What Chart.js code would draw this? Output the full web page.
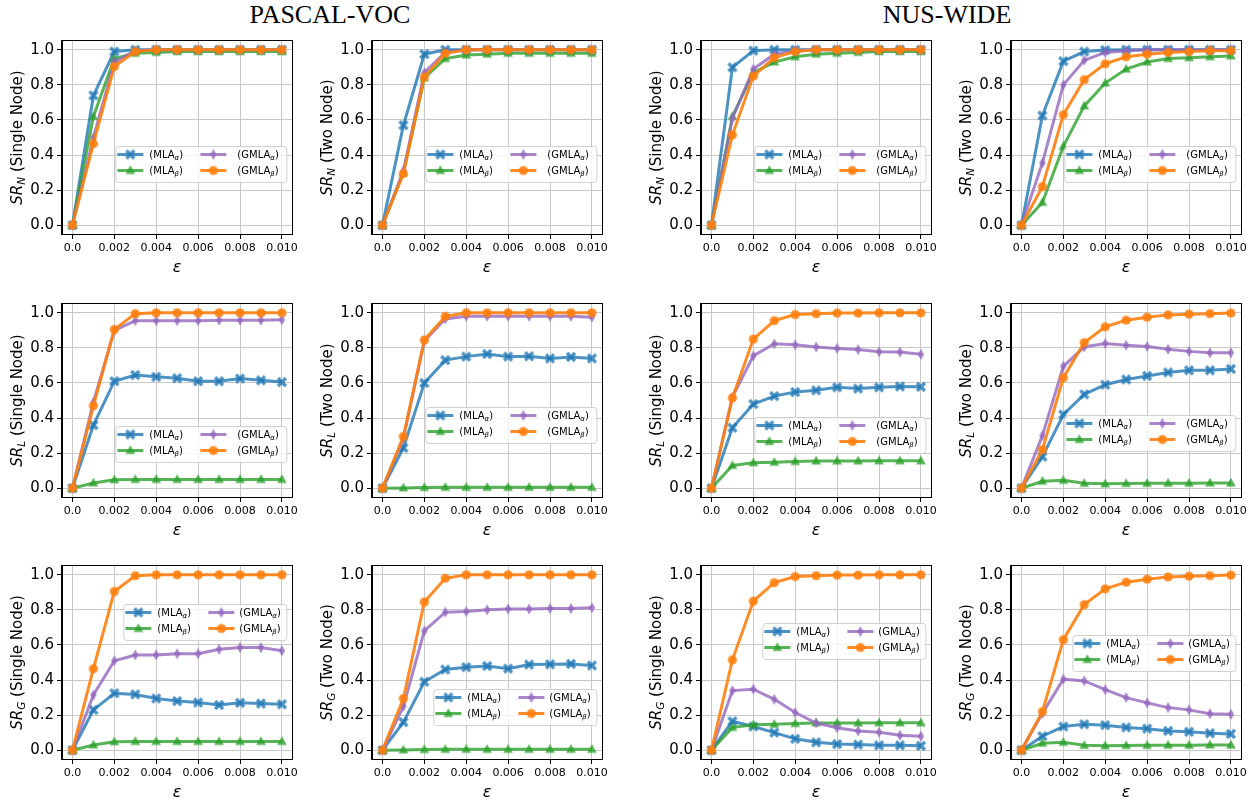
<!DOCTYPE html>
<html>
<head>
<meta charset="utf-8">
<script src="https://cdn.jsdelivr.net/npm/chart.js@4.4.1/dist/chart.umd.min.js"></script>
<style>
  html, body { margin: 0; padding: 0; background: #fff; }
  #fig { position: relative; width: 1256px; height: 801px; overflow: hidden; }
  #fig canvas { position: absolute; }
  .dsTitle { position: absolute; top: 0px; font-family: "Liberation Serif", serif; font-size: 26px; color: #000; transform: translateX(-50%); white-space: nowrap; }
</style>
</head>
<body>
<div id="fig">
  <div class="dsTitle" style="left:330px">PASCAL-VOC</div>
  <div class="dsTitle" style="left:947px">NUS-WIDE</div>
</div>
<script>
// epsilon values on the x axis, and tick labels
var epsValues = [0, 0.001, 0.002, 0.003, 0.004, 0.005, 0.006, 0.007, 0.008, 0.009, 0.010];
var xTickLabels = ['0.0', '0.002', '0.004', '0.006', '0.008', '0.010'];
var yTickLabels = ['0.0', '0.2', '0.4', '0.6', '0.8', '1.0'];

// series names: (MLA_alpha), (MLA_beta), (GMLA_alpha), (GMLA_beta)
var seriesBase = ['MLA', 'MLA', 'GMLA', 'GMLA'];
var seriesSub = ['\u03b1', '\u03b2', '\u03b1', '\u03b2'];

// PASCAL-VOC, SR_N single node
var vocNSingleMlaA  = [0, 0.74, 0.99, 1.0, 1.0, 1.0, 1.0, 1.0, 1.0, 1.0, 1.0];
var vocNSingleMlaB  = [0, 0.62, 0.95, 0.98, 0.985, 0.99, 0.99, 0.99, 0.99, 0.99, 0.99];
var vocNSingleGmlaA = [0, 0.50, 0.93, 0.995, 1.0, 1.0, 1.0, 1.0, 1.0, 1.0, 1.0];
var vocNSingleGmlaB = [0, 0.465, 0.905, 0.99, 1.0, 1.0, 1.0, 1.0, 1.0, 1.0, 1.0];
// PASCAL-VOC, SR_N two node
var vocNTwoMlaA  = [0, 0.57, 0.975, 1.0, 1.0, 1.0, 1.0, 1.0, 1.0, 1.0, 1.0];
var vocNTwoMlaB  = [0, 0.30, 0.84, 0.95, 0.97, 0.975, 0.98, 0.98, 0.98, 0.98, 0.98];
var vocNTwoGmlaA = [0, 0.31, 0.87, 0.985, 1.0, 1.0, 1.0, 1.0, 1.0, 1.0, 1.0];
var vocNTwoGmlaB = [0, 0.295, 0.845, 0.98, 1.0, 1.0, 1.0, 1.0, 1.0, 1.0, 1.0];
// NUS-WIDE, SR_N single node
var nusNSingleMlaA  = [0, 0.90, 0.995, 1.0, 1.0, 1.0, 1.0, 1.0, 1.0, 1.0, 1.0];
var nusNSingleMlaB  = [0, 0.62, 0.87, 0.93, 0.96, 0.975, 0.98, 0.985, 0.99, 0.99, 0.99];
var nusNSingleGmlaA = [0, 0.61, 0.89, 0.975, 0.995, 1.0, 1.0, 1.0, 1.0, 1.0, 1.0];
var nusNSingleGmlaB = [0, 0.515, 0.85, 0.955, 0.99, 1.0, 1.0, 1.0, 1.0, 1.0, 1.0];
// NUS-WIDE, SR_N two node
var nusNTwoMlaA  = [0, 0.625, 0.935, 0.99, 0.998, 1.0, 1.0, 1.0, 1.0, 1.0, 1.0];
var nusNTwoMlaB  = [0, 0.13, 0.45, 0.68, 0.81, 0.89, 0.93, 0.95, 0.955, 0.96, 0.965];
var nusNTwoGmlaA = [0, 0.355, 0.80, 0.94, 0.985, 0.995, 1.0, 1.0, 1.0, 1.0, 1.0];
var nusNTwoGmlaB = [0, 0.22, 0.63, 0.83, 0.92, 0.96, 0.975, 0.985, 0.99, 0.995, 0.995];

// PASCAL-VOC, SR_L single node
var vocLSingleMlaA  = [0, 0.36, 0.61, 0.645, 0.635, 0.627, 0.61, 0.61, 0.625, 0.615, 0.605];
var vocLSingleMlaB  = [0, 0.03, 0.048, 0.05, 0.05, 0.05, 0.05, 0.05, 0.05, 0.05, 0.05];
var vocLSingleGmlaA = [0, 0.49, 0.90, 0.955, 0.955, 0.955, 0.955, 0.958, 0.958, 0.958, 0.96];
var vocLSingleGmlaB = [0, 0.47, 0.905, 0.995, 1.0, 1.0, 1.0, 1.0, 1.0, 1.0, 1.0];
// PASCAL-VOC, SR_L two node
var vocLTwoMlaA  = [0, 0.23, 0.60, 0.73, 0.75, 0.765, 0.75, 0.752, 0.74, 0.748, 0.74];
var vocLTwoMlaB  = [0, 0.002, 0.004, 0.005, 0.005, 0.005, 0.005, 0.005, 0.005, 0.005, 0.005];
var vocLTwoGmlaA = [0, 0.285, 0.84, 0.965, 0.98, 0.98, 0.98, 0.98, 0.98, 0.98, 0.975];
var vocLTwoGmlaB = [0, 0.295, 0.845, 0.98, 1.0, 1.0, 1.0, 1.0, 1.0, 1.0, 1.0];
// NUS-WIDE, SR_L single node
var nusLSingleMlaA  = [0, 0.345, 0.48, 0.525, 0.548, 0.558, 0.575, 0.568, 0.575, 0.58, 0.578];
var nusLSingleMlaB  = [0, 0.13, 0.145, 0.148, 0.152, 0.155, 0.155, 0.155, 0.156, 0.156, 0.156];
var nusLSingleGmlaA = [0, 0.52, 0.755, 0.823, 0.818, 0.805, 0.797, 0.79, 0.778, 0.776, 0.763];
var nusLSingleGmlaB = [0, 0.515, 0.85, 0.955, 0.99, 0.995, 0.998, 0.998, 1.0, 1.0, 1.0];
// NUS-WIDE, SR_L two node
var nusLTwoMlaA  = [0, 0.18, 0.42, 0.535, 0.59, 0.62, 0.64, 0.66, 0.672, 0.672, 0.68];
var nusLTwoMlaB  = [0, 0.04, 0.045, 0.028, 0.025, 0.027, 0.028, 0.029, 0.029, 0.03, 0.03];
var nusLTwoGmlaA = [0, 0.30, 0.695, 0.805, 0.825, 0.815, 0.808, 0.792, 0.78, 0.772, 0.772];
var nusLTwoGmlaB = [0, 0.22, 0.63, 0.83, 0.92, 0.958, 0.975, 0.988, 0.992, 0.995, 0.998];

// PASCAL-VOC, SR_G single node
var vocGSingleMlaA  = [0, 0.23, 0.325, 0.318, 0.295, 0.28, 0.272, 0.258, 0.27, 0.266, 0.262];
var vocGSingleMlaB  = [0, 0.03, 0.048, 0.05, 0.05, 0.05, 0.05, 0.05, 0.05, 0.05, 0.05];
var vocGSingleGmlaA = [0, 0.315, 0.51, 0.543, 0.543, 0.55, 0.55, 0.575, 0.585, 0.585, 0.567];
var vocGSingleGmlaB = [0, 0.465, 0.905, 0.995, 1.0, 1.0, 1.0, 1.0, 1.0, 1.0, 1.0];
// PASCAL-VOC, SR_G two node
var vocGTwoMlaA  = [0, 0.16, 0.39, 0.46, 0.473, 0.48, 0.465, 0.488, 0.49, 0.492, 0.483];
var vocGTwoMlaB  = [0, 0.002, 0.004, 0.005, 0.005, 0.005, 0.005, 0.005, 0.005, 0.005, 0.005];
var vocGTwoGmlaA = [0, 0.25, 0.68, 0.787, 0.79, 0.80, 0.805, 0.805, 0.808, 0.808, 0.812];
var vocGTwoGmlaB = [0, 0.295, 0.845, 0.98, 1.0, 1.0, 1.0, 1.0, 1.0, 1.0, 1.0];
// NUS-WIDE, SR_G single node
var nusGSingleMlaA  = [0, 0.165, 0.135, 0.10, 0.065, 0.045, 0.035, 0.032, 0.028, 0.028, 0.025];
var nusGSingleMlaB  = [0, 0.13, 0.145, 0.148, 0.152, 0.155, 0.155, 0.155, 0.156, 0.156, 0.156];
var nusGSingleGmlaA = [0, 0.34, 0.348, 0.29, 0.215, 0.155, 0.128, 0.11, 0.103, 0.085, 0.08];
var nusGSingleGmlaB = [0, 0.515, 0.85, 0.955, 0.99, 0.995, 0.998, 0.998, 1.0, 1.0, 1.0];
// NUS-WIDE, SR_G two node
var nusGTwoMlaA  = [0, 0.08, 0.135, 0.148, 0.143, 0.13, 0.123, 0.11, 0.105, 0.097, 0.093];
var nusGTwoMlaB  = [0, 0.04, 0.045, 0.028, 0.025, 0.027, 0.028, 0.029, 0.029, 0.03, 0.03];
var nusGTwoGmlaA = [0, 0.21, 0.405, 0.395, 0.345, 0.30, 0.27, 0.243, 0.23, 0.208, 0.205];
var nusGTwoGmlaB = [0, 0.22, 0.63, 0.83, 0.92, 0.958, 0.975, 0.988, 0.992, 0.995, 0.998];

// line colours (matplotlib tab colours, slightly transparent)
var seriesColors = ['rgba(31,119,180,0.8)', 'rgba(44,160,44,0.8)', 'rgba(148,103,189,0.8)', 'rgba(255,127,14,0.9)'];
var markerKinds = ['X', '^', 'd', 'o'];

// panel grid: plot area left edges / widths, top edges / heights
var colLeft = [62, 372, 701, 1011];
var plotW = 231;
var rowTop = [37, 300, 562];
var plotH = 197;
var yAxisW = 62, xAxisH = 43, padTop = 8, padRight = 8;

// one entry per panel; legend top is measured from the plot top
var panels = [
  {col: 0, row: 0, sub: 'N', node: 'Single', series: [vocNSingleMlaA, vocNSingleMlaB, vocNSingleGmlaA, vocNSingleGmlaB], legTop: 105, legW: 171},
  {col: 1, row: 0, sub: 'N', node: 'Two', series: [vocNTwoMlaA, vocNTwoMlaB, vocNTwoGmlaA, vocNTwoGmlaB], legTop: 105, legW: 171},
  {col: 2, row: 0, sub: 'N', node: 'Single', series: [nusNSingleMlaA, nusNSingleMlaB, nusNSingleGmlaA, nusNSingleGmlaB], legTop: 105, legW: 171},
  {col: 3, row: 0, sub: 'N', node: 'Two', series: [nusNTwoMlaA, nusNTwoMlaB, nusNTwoGmlaA, nusNTwoGmlaB], legTop: 105, legW: 171},
  {col: 0, row: 1, sub: 'L', node: 'Single', series: [vocLSingleMlaA, vocLSingleMlaB, vocLSingleGmlaA, vocLSingleGmlaB], legTop: 122, legW: 171},
  {col: 1, row: 1, sub: 'L', node: 'Two', series: [vocLTwoMlaA, vocLTwoMlaB, vocLTwoGmlaA, vocLTwoGmlaB], legTop: 103, legW: 171},
  {col: 2, row: 1, sub: 'L', node: 'Single', series: [nusLSingleMlaA, nusLSingleMlaB, nusLSingleGmlaA, nusLSingleGmlaB], legTop: 113, legW: 171},
  {col: 3, row: 1, sub: 'L', node: 'Two', series: [nusLTwoMlaA, nusLTwoMlaB, nusLTwoGmlaA, nusLTwoGmlaB], legTop: 111, legW: 171},
  {col: 0, row: 2, sub: 'G', node: 'Single', series: [vocGSingleMlaA, vocGSingleMlaB, vocGSingleGmlaA, vocGSingleGmlaB], legTop: 38, legW: 163},
  {col: 1, row: 2, sub: 'G', node: 'Two', series: [vocGTwoMlaA, vocGTwoMlaB, vocGTwoGmlaA, vocGTwoGmlaB], legTop: 123, legW: 163},
  {col: 2, row: 2, sub: 'G', node: 'Single', series: [nusGSingleMlaA, nusGSingleMlaB, nusGSingleGmlaA, nusGSingleGmlaB], legTop: 57, legW: 163},
  {col: 3, row: 2, sub: 'G', node: 'Two', series: [nusGTwoMlaA, nusGTwoMlaB, nusGTwoGmlaA, nusGTwoGmlaB], legTop: 69, legW: 163}
];

Chart.defaults.font.family = '"DejaVu Sans", sans-serif';
Chart.defaults.color = '#000';

// draws a matplotlib-like marker shape centred on (0,0)
function markerPath(ctx, kind) {
  ctx.beginPath();
  if (kind === 'o') {
    ctx.arc(0, 0, 4.6, 0, Math.PI * 2);
  } else if (kind === '^') {
    ctx.moveTo(0, -5.2); ctx.lineTo(4.8, 3.4); ctx.lineTo(-4.8, 3.4);
  } else if (kind === 'd') {
    ctx.moveTo(0, -5.4); ctx.lineTo(3.2, 0); ctx.lineTo(0, 5.4); ctx.lineTo(-3.2, 0);
  } else {
    var r = 5.6, w = 1.7;
    var pts = [[-w,-r],[w,-r],[w,-w],[r,-w],[r,w],[w,w],[w,r],[-w,r],[-w,w],[-r,w],[-r,-w],[-w,-w]];
    var c = Math.SQRT1_2;
    pts.forEach(function (p, i) {
      var x = (p[0] - p[1]) * c, y = (p[0] + p[1]) * c;
      if (i === 0) ctx.moveTo(x, y); else ctx.lineTo(x, y);
    });
  }
  ctx.closePath();
}

function makeMarker(kind, color) {
  var c = document.createElement('canvas');
  c.width = 14; c.height = 14;
  var g = c.getContext('2d');
  g.translate(7, 7);
  g.fillStyle = color;
  markerPath(g, kind);
  g.fill();
  return c;
}

var markerImgs = markerKinds.map(function (k, i) { return makeMarker(k, seriesColors[i]); });

// frame, rotated y title with subscript, and the two-column legend
var panelDecor = {
  id: 'panelDecor',
  afterDatasetsDraw: function (chart) {
    var a = chart.chartArea, ctx = chart.ctx;
    ctx.save();
    ctx.strokeStyle = '#000';
    ctx.lineWidth = 1;
    ctx.strokeRect(Math.round(a.left) - 0.5, Math.round(a.top) - 0.5, Math.round(a.width) + 1, Math.round(a.height) + 1);
    ctx.restore();
  },
  afterDraw: function (chart, args, opts) {
    var a = chart.chartArea, ctx = chart.ctx;
    // y axis title: SR_x (Single Node)
    ctx.save();
    ctx.translate(a.left - 46, (a.top + a.bottom) / 2);
    ctx.rotate(-Math.PI / 2);
    ctx.fillStyle = '#000';
    ctx.textBaseline = 'alphabetic';
    var fBig = 'italic 15px "DejaVu Sans"', fSub = 'italic 10.5px "DejaVu Sans"', fNorm = '15px "DejaVu Sans"';
    var rest = ' (' + opts.node + ' Node)';
    ctx.font = fBig; var w1 = ctx.measureText('SR').width;
    ctx.font = fSub; var w2 = ctx.measureText(opts.sub).width;
    ctx.font = fNorm; var w3 = ctx.measureText(rest).width;
    var x = -(w1 + w2 + w3) / 2;
    ctx.font = fBig; ctx.fillText('SR', x, 5.5); x += w1;
    ctx.font = fSub; ctx.fillText(opts.sub, x, 9); x += w2;
    ctx.font = fNorm; ctx.fillText(rest, x, 5.5);
    ctx.restore();

    // legend box
    var lw = opts.legW, lh = 36;
    var lx = a.right - 6 - lw, ly = a.top + opts.legTop;
    ctx.save();
    ctx.beginPath();
    ctx.roundRect(lx + 0.5, ly + 0.5, lw, lh, 3);
    ctx.fillStyle = 'rgba(255,255,255,0.8)';
    ctx.fill();
    ctx.strokeStyle = 'rgba(204,204,204,0.9)';
    ctx.lineWidth = 1;
    ctx.stroke();
    var colX = [2, 85];
    var textX = [34, lw > 166 ? 122 : 116];
    var rowY = [8.5, 24.5];
    for (var i = 0; i < 4; i++) {
      var cx = lx + colX[i >> 1], cy = ly + rowY[i & 1];
      ctx.strokeStyle = seriesColors[i];
      ctx.lineWidth = 3;
      ctx.beginPath();
      ctx.moveTo(cx, cy); ctx.lineTo(cx + 26, cy);
      ctx.stroke();
      ctx.drawImage(markerImgs[i], cx + 13 - 7, cy - 7);
      var tx = lx + textX[i >> 1];
      ctx.fillStyle = '#000';
      ctx.font = '10px "DejaVu Sans"';
      ctx.fillText('(' + seriesBase[i], tx, cy + 3.6);
      tx += ctx.measureText('(' + seriesBase[i]).width;
      ctx.font = 'italic 7px "DejaVu Sans"';
      ctx.fillText(seriesSub[i], tx, cy + 5.8);
      tx += ctx.measureText(seriesSub[i]).width;
      ctx.font = '10px "DejaVu Sans"';
      ctx.fillText(')', tx, cy + 3.6);
    }
    ctx.restore();
  }
};

var fig = document.getElementById('fig');

panels.forEach(function (p) {
  var cv = document.createElement('canvas');
  var w = plotW + yAxisW + padRight, h = plotH + padTop + xAxisH;
  cv.width = w; cv.height = h;
  cv.style.left = (colLeft[p.col] - yAxisW) + 'px';
  cv.style.top = (rowTop[p.row] - padTop) + 'px';
  fig.appendChild(cv);

  var datasets = p.series.map(function (vals, i) {
    return {
      label: '(' + seriesBase[i] + seriesSub[i] + ')',
      data: vals.map(function (v, j) { return {x: epsValues[j], y: v}; }),
      borderColor: seriesColors[i],
      backgroundColor: seriesColors[i],
      borderWidth: 3,
      pointStyle: markerImgs[i],
      pointRadius: 5,
      tension: 0,
      order: 4 - i
    };
  });

  new Chart(cv.getContext('2d'), {
    type: 'line',
    data: {datasets: datasets},
    options: {
      responsive: false,
      animation: false,
      events: [],
      layout: {padding: {top: padTop, right: padRight, left: 0, bottom: 0}},
      plugins: {
        legend: {display: false},
        tooltip: {enabled: false},
        panelDecor: {sub: p.sub, node: p.node, legTop: p.legTop, legW: p.legW}
      },
      scales: {
        x: {
          type: 'linear',
          min: -0.0005,
          max: 0.0105,
          afterFit: function (s) { s.height = xAxisH; },
          ticks: {
            stepSize: 0.002, includeBounds: false, autoSkip: false, maxRotation: 0,
            padding: 3, font: {size: 11}, color: '#000',
            callback: function (v, idx) { return xTickLabels[idx]; }
          },
          grid: {color: '#c8c8c8', tickColor: '#000', tickLength: 5},
          border: {color: '#000'},
          title: {display: true, text: '\u03b5', color: '#000', padding: 0, font: {size: 16, style: 'italic'}}
        },
        y: {
          min: -0.05,
          max: 1.05,
          afterFit: function (s) { s.width = yAxisW; },
          ticks: {
            stepSize: 0.2, includeBounds: false, autoSkip: false,
            padding: 3, font: {size: 15}, color: '#000',
            callback: function (v, idx) { return yTickLabels[idx]; }
          },
          grid: {color: '#c8c8c8', tickColor: '#000', tickLength: 5},
          border: {color: '#000'}
        }
      }
    },
    plugins: [panelDecor]
  });
});
</script>
</body>
</html>
